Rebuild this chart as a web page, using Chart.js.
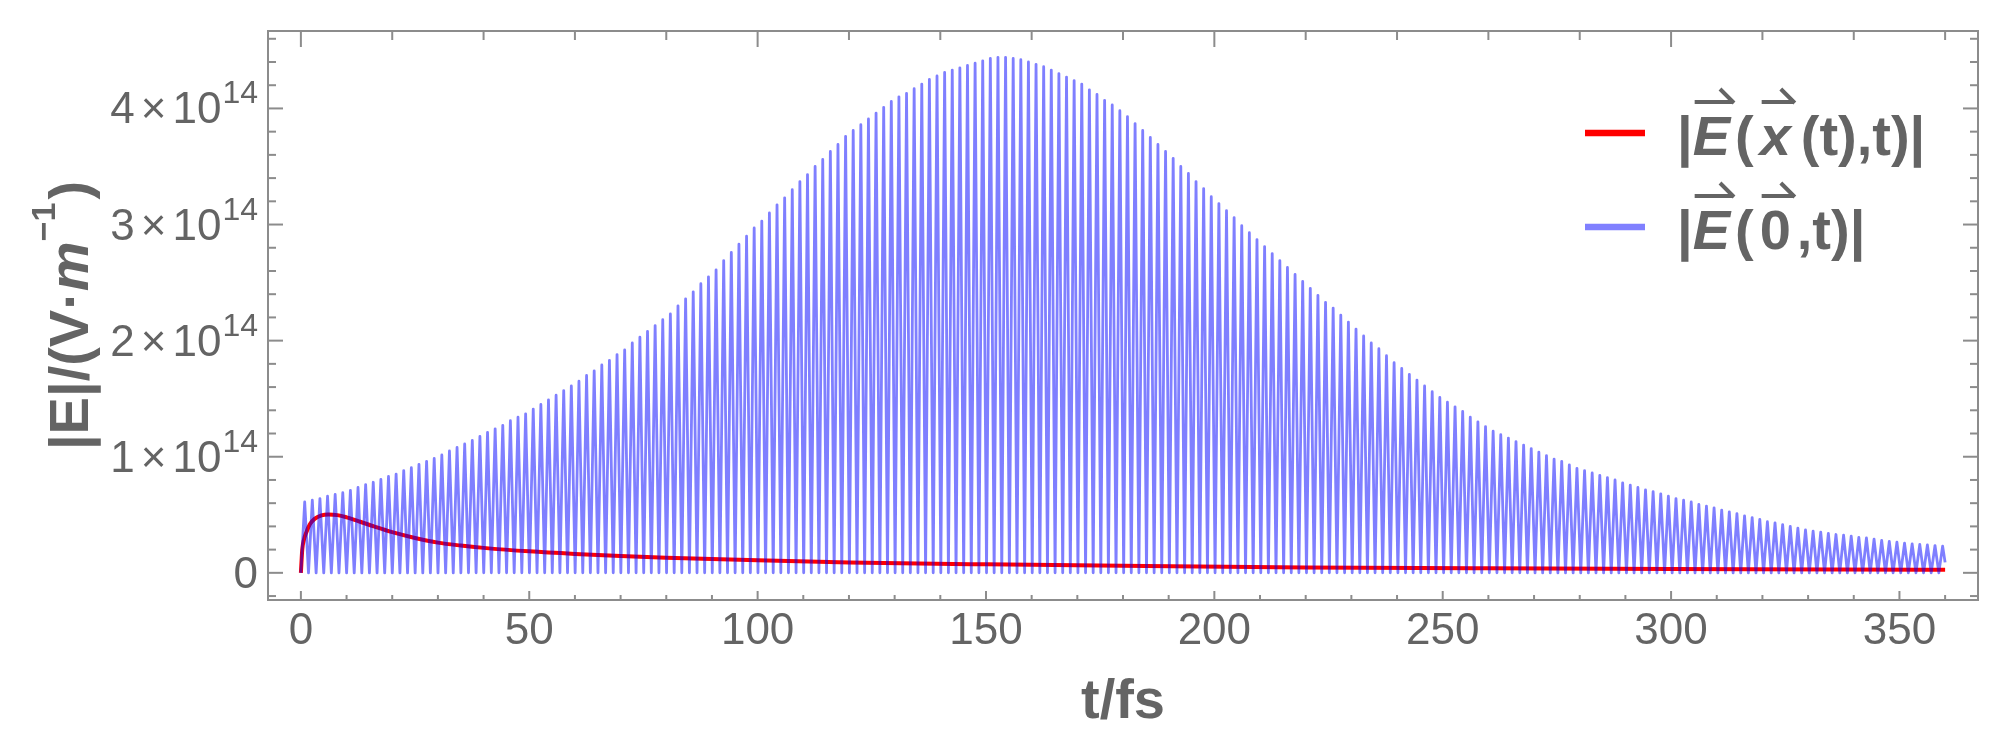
<!DOCTYPE html>
<html>
<head>
<meta charset="utf-8">
<script src="https://cdn.jsdelivr.net/npm/chart.js@4.4.1/dist/chart.umd.min.js"></script>
<style>
  html, body { margin: 0; padding: 0; background: #fff; }
  canvas { display: block; }
</style>
</head>
<body>
<canvas id="fieldChart" width="2014" height="751"></canvas>
<script>
// time in fs, field magnitudes in units of 1e14 V/m

// |E(x(t),t)| along the trajectory
const redTimes = [0, 0.3, 0.7, 1.2, 2, 3, 4.5, 6, 8, 10, 13, 16, 20, 25, 30, 35, 40,
    50, 60, 70, 80, 100, 120, 150, 185, 220, 260, 300, 360];
const redValues = [0, 0.2, 0.29, 0.35, 0.42, 0.465, 0.495, 0.503, 0.497, 0.478, 0.44, 0.40, 0.35, 0.30, 0.26, 0.235, 0.215,
    0.185, 0.163, 0.145, 0.13, 0.108, 0.09, 0.073, 0.058, 0.047, 0.039, 0.033, 0.027];

// |E(0,t)|: it drops to zero every half cycle, these are the heights of the humps in between
const halfCycle = 1.668;
const bluePeaks = [
    0.61, 0.625, 0.64, 0.66, 0.675, 0.69,     // 0-10 fs
    0.71, 0.735, 0.76, 0.78, 0.805, 0.83,
    0.85, 0.88, 0.905, 0.935, 0.96, 0.985,
    1.015, 1.05, 1.08, 1.11, 1.14, 1.175,
    1.21, 1.24, 1.27, 1.31, 1.34, 1.37,
    1.41, 1.45, 1.49, 1.53, 1.57, 1.61,       // 50-60 fs
    1.65, 1.70, 1.74, 1.79, 1.83, 1.88,
    1.92, 1.98, 2.03, 2.08, 2.13, 2.18,
    2.23, 2.30, 2.36, 2.42, 2.49, 2.55,
    2.61, 2.69, 2.76, 2.83, 2.90, 2.97,
    3.03, 3.10, 3.17, 3.23, 3.30, 3.37,       // 100-110 fs
    3.43, 3.50, 3.56, 3.63, 3.69, 3.76,
    3.81, 3.86, 3.91, 3.96, 4.01, 4.06,
    4.10, 4.13, 4.17, 4.21, 4.25, 4.28,
    4.31, 4.33, 4.35, 4.37, 4.39, 4.41,
    4.43, 4.44, 4.44, 4.43, 4.42, 4.40,       // 150-160 fs
    4.38, 4.36, 4.33, 4.30, 4.27, 4.24,
    4.21, 4.16, 4.12, 4.07, 4.03, 3.98,
    3.93, 3.87, 3.81, 3.75, 3.69, 3.63,
    3.57, 3.50, 3.44, 3.37, 3.31, 3.24,
    3.18, 3.12, 3.06, 2.99, 2.93, 2.87,       // 200-210 fs
    2.81, 2.75, 2.69, 2.63, 2.57, 2.51,
    2.45, 2.39, 2.33, 2.28, 2.22, 2.16,
    2.10, 2.04, 1.98, 1.93, 1.87, 1.81,
    1.76, 1.71, 1.66, 1.61, 1.56, 1.51,
    1.47, 1.43, 1.39, 1.34, 1.30, 1.26,       // 250-260 fs
    1.22, 1.19, 1.16, 1.13, 1.10, 1.07,
    1.04, 1.01, 0.98, 0.96, 0.93, 0.90,
    0.88, 0.86, 0.84, 0.82, 0.80, 0.775,
    0.755, 0.735, 0.715, 0.70, 0.68, 0.66,
    0.64, 0.625, 0.61, 0.59, 0.575, 0.56,     // 300-310 fs
    0.54, 0.525, 0.51, 0.49, 0.475, 0.46,
    0.44, 0.43, 0.415, 0.40, 0.385, 0.37,
    0.36, 0.35, 0.34, 0.33, 0.325, 0.315,
    0.305, 0.30, 0.29, 0.28, 0.27, 0.265,
    0.255, 0.25, 0.245, 0.24, 0.235, 0.23     // 350-360 fs
];
const blueEndTime = 360;
const blueEndValue = 0.09;

const xTickValues = [0, 50, 100, 150, 200, 250, 300, 350];
const xTickLabels = ['0', '50', '100', '150', '200', '250', '300', '350'];
const yTickValues = [0, 1, 2, 3, 4];
const yTickLabels = ['0', '1', '2', '3', '4'];   // mantissas of k x 10^14
const yExponent = '14';

const seriesNames = ['|E(x(t),t)|', '|E(0,t)|'];

const textGray = '#646464';
const frameGray = '#8c8c8c';
const family = '"Liberation Sans", Arial, sans-serif';

const redSeries = redTimes.map((t, i) => ({ x: t, y: redValues[i] }));
const blueSeries = [];
bluePeaks.forEach((p, k) => {
    blueSeries.push({ x: k * halfCycle, y: 0 });
    blueSeries.push({ x: (k + 0.5) * halfCycle, y: p });
});
blueSeries.push({ x: blueEndTime, y: blueEndValue });

// Mathematica style frame: inward ticks on all four sides, y labels with exponents, legend inside
const framePlugin = {
    id: 'mmaFrame',
    afterDatasetsDraw(chart) {
        const { ctx, chartArea: a, scales: { x, y } } = chart;
        ctx.save();
        ctx.strokeStyle = frameGray;
        ctx.lineWidth = 2;
        ctx.strokeRect(a.left, a.top, a.right - a.left, a.bottom - a.top);

        const tick = (x1, y1, x2, y2) => {
            ctx.beginPath();
            ctx.moveTo(x1, y1);
            ctx.lineTo(x2, y2);
            ctx.stroke();
        };
        for (let v = 0; v <= 360; v += 10) {
            const px = x.getPixelForValue(v);
            tick(px, a.bottom, px, a.bottom - (v % 50 === 0 ? 9 : 5));
        }
        for (let v = 0; v <= 360; v += 20) {
            const px = x.getPixelForValue(v);
            tick(px, a.top, px, a.top + (v % 100 === 0 ? 16 : 9));
        }
        for (let i = -1; i <= 23; i++) {
            const py = y.getPixelForValue(i / 5);
            const len = i % 5 === 0 ? 15 : 8;
            tick(a.left, py, a.left + len, py);
            tick(a.right, py, a.right - len, py);
        }

        // y tick labels  k x 10^14
        ctx.fillStyle = textGray;
        ctx.textBaseline = 'alphabetic';
        ctx.textAlign = 'left';
        const right = a.left - 10;
        yTickValues.forEach((v, i) => {
            const py = y.getPixelForValue(v);
            const mant = yTickLabels[i];
            ctx.font = '44px ' + family;
            if (v === 0) {
                ctx.fillText(mant, right - ctx.measureText(mant).width, py + 15);
                return;
            }
            const wm = ctx.measureText(mant).width;
            const wx = ctx.measureText('\u00d7').width;
            const wt = ctx.measureText('10').width;
            ctx.font = '32px ' + family;
            const we = ctx.measureText(yExponent).width;
            let px = right - (wm + 6 + wx + 6 + wt + 1 + we);
            ctx.font = '44px ' + family;
            ctx.fillText(mant, px, py + 15); px += wm + 6;
            ctx.fillText('\u00d7', px, py + 15); px += wx + 6;
            ctx.fillText('10', px, py + 15); px += wt + 1;
            ctx.font = '32px ' + family;
            ctx.fillText(yExponent, px, py - 5);
        });

        // y axis title, rotated, with italic m and raised -1
        const tparts = [
            ['|E|/(V\u00b7', 'bold 56px ', 0],
            ['m', 'italic bold 56px ', 0],
            ['\u22121', 'bold 34px ', 33],
            [')', 'bold 56px ', 0]
        ];
        let total = 0;
        tparts.forEach(p => { ctx.font = p[1] + family; total += ctx.measureText(p[0]).width + (p[2] ? 3 : 0); });
        ctx.translate(88, (a.top + a.bottom) / 2);
        ctx.rotate(-Math.PI / 2);
        let tx = -total / 2;
        tparts.forEach(p => {
            ctx.font = p[1] + family;
            ctx.fillText(p[0], tx, -p[2]);
            tx += ctx.measureText(p[0]).width + (p[2] ? 3 : 0);
        });
        ctx.restore();
    },
    afterDraw(chart) {
        const { ctx, chartArea: a } = chart;
        const ds = chart.data.datasets;
        const lx = a.right - 393;
        const rows = [
            { color: ds[0].borderColor, base: a.top + 124,
              parts: [['|', 0, false], ['E', 0, true, true], ['(', 5, false], ['x', 6, true, true], ['(t),t)|', 10, false]] },
            { color: 'rgb(128, 128, 255)', base: a.top + 218,
              parts: [['|', 0, false], ['E', 0, true, true], ['(', 5, false], ['0', 6, false, true], [',t)|', 6, false]] }
        ];
        ctx.save();
        rows.forEach(r => {
            ctx.strokeStyle = r.color;
            ctx.lineWidth = 6.5;
            ctx.beginPath();
            ctx.moveTo(lx, r.base - 22);
            ctx.lineTo(lx + 60, r.base - 22);
            ctx.stroke();

            let px = lx + 92;
            ctx.fillStyle = textGray;
            ctx.strokeStyle = textGray;
            ctx.textBaseline = 'alphabetic';
            r.parts.forEach(([txt, gap, italic, arrow]) => {
                px += gap;
                ctx.font = (italic ? 'italic ' : '') + 'bold 56px ' + family;
                ctx.fillText(txt, px, r.base);
                const w = ctx.measureText(txt).width;
                if (arrow) {
                    const ay = r.base - 53;
                    const x1 = px + 2, x2 = px + w + 3;
                    ctx.lineWidth = 4;
                    ctx.beginPath();
                    ctx.moveTo(x1, ay);
                    ctx.lineTo(x2, ay);
                    ctx.moveTo(x2 + 1, ay + 1);
                    ctx.lineTo(x2 - 13, ay - 13);
                    ctx.stroke();
                }
                px += w;
            });
        });
        ctx.restore();
    }
};

const ctx = document.getElementById('fieldChart').getContext('2d');

new Chart(ctx, {
    type: 'line',
    data: {
        datasets: [{
            label: seriesNames[0],
            data: redSeries,
            borderColor: 'rgb(255, 0, 0)',
            borderWidth: 4,
            cubicInterpolationMode: 'monotone',
            order: 1
        }, {
            label: seriesNames[1],
            data: blueSeries,
            borderColor: 'rgba(0, 0, 255, 0.5)',
            borderWidth: 2.8,
            borderJoinStyle: 'round',
            tension: 0,
            order: 0
        }]
    },
    options: {
        responsive: false,
        animation: false,
        devicePixelRatio: 1,
        layout: { padding: { top: 31, right: 36, left: 0, bottom: 0 } },
        elements: { point: { radius: 0 } },
        plugins: {
            legend: { display: false },
            tooltip: { enabled: false }
        },
        scales: {
            x: {
                type: 'linear',
                min: -7.2,
                max: 367.2,
                afterBuildTicks: s => { s.ticks = xTickValues.map(v => ({ value: v })); },
                afterFit: s => { s.height = 151; },
                grid: { display: false, drawTicks: false },
                border: { display: false },
                ticks: {
                    autoSkip: false,
                    maxRotation: 0,
                    padding: 5,
                    color: textGray,
                    font: { family: family, size: 44 },
                    callback: (v, i) => xTickLabels[i]
                },
                title: {
                    display: true,
                    text: 't/fs',
                    color: textGray,
                    font: { family: family, size: 56, weight: 'bold' },
                    padding: { top: 0, bottom: 15 }
                }
            },
            y: {
                type: 'linear',
                min: -0.234,
                max: 4.667,
                afterBuildTicks: s => { s.ticks = yTickValues.map(v => ({ value: v })); },
                afterFit: s => { s.width = 268; },
                grid: { display: false, drawTicks: false },
                border: { display: false },
                ticks: { display: false }
            }
        }
    },
    plugins: [framePlugin]
});
</script>
</body>
</html>
